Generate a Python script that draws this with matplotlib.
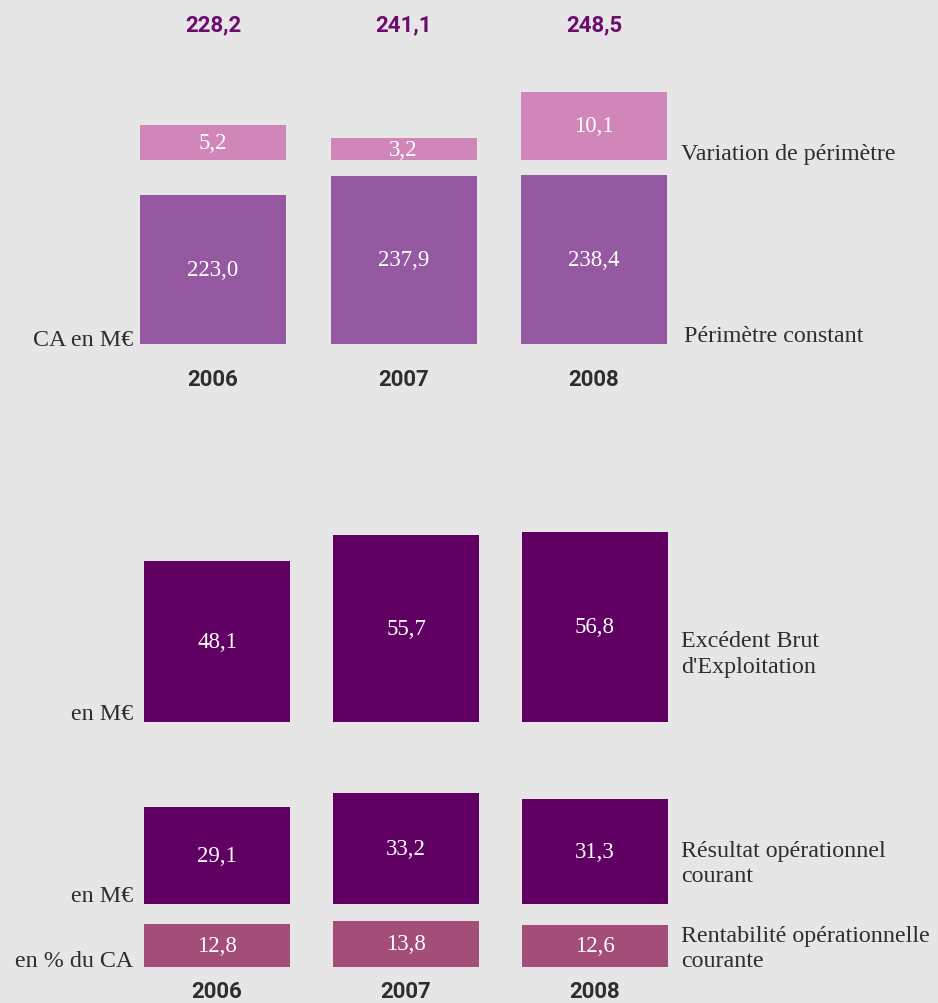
import matplotlib
matplotlib.use("Agg")
import matplotlib.pyplot as plt
from matplotlib import font_manager

# Données (CA, EBE, ROC, rentabilité)
years = ["2006", "2007", "2008"]
ca_totals = ["228,2", "241,1", "248,5"]
ca_constant = [223.0, 237.9, 238.4]
ca_variation = [5.2, 3.2, 10.1]
ebe = [48.1, 55.7, 56.8]
roc = [29.1, 33.2, 31.3]
rentabilite = [12.8, 13.8, 12.6]

BG = "#e6e6e6"
C_CONST = "#9559a1"
C_VAR = "#d086b9"
C_DARK = "#610063"
C_RENT = "#a34e78"
C_TOTAL = "#6b0c6e"
C_TEXT = "#2e2e2e"

installed = {f.name for f in font_manager.fontManager.ttflist}
SANS = "Liberation Sans Narrow" if "Liberation Sans Narrow" in installed else "Roboto"
SERIF = "Liberation Serif"

W, H = 938, 1004
fig = plt.figure(figsize=(W / 100, H / 100), dpi=100, facecolor=BG)


def px_axes(x0, y0, x1, y1):
    # axes placé en pixels (origine en haut à gauche)
    ax = fig.add_axes([x0 / W, 1 - y1 / H, (x1 - x0) / W, (y1 - y0) / H])
    ax.set_facecolor("none")
    ax.axis("off")
    return ax


def fmt(v):
    return f"{v:.1f}".replace(".", ",")


def bars(ax, values, color, width, ylim):
    x = range(len(values))
    rects = ax.bar(x, values, width=width, color=color)
    ax.set_xlim(-width / 2, len(values) - 1 + width / 2)
    ax.set_ylim(*ylim)
    for r, v in zip(rects, values):
        lo = max(r.get_y(), ylim[0])
        ax.text(r.get_x() + r.get_width() / 2, (lo + v) / 2, fmt(v),
                ha="center", va="center", color="white",
                family=SERIF, fontsize=16.5)


def ftext(x, y, s, **kw):
    fig.text(x / W, 1 - y / H, s, **kw)


# --- Chiffre d'affaires ---
w_top = 146 / 190.5
ax_var = px_axes(140, 80, 667, 161)
bars(ax_var, ca_variation, C_VAR, w_top, (0, 12))
ax_const = px_axes(140, 161, 667, 345)
bars(ax_const, ca_constant, C_CONST, w_top, (108.4, 249.9))

top_centers = [213, 404, 594]
for cx, t, yr in zip(top_centers, ca_totals, years):
    ftext(cx, 25, t, ha="center", va="center", color=C_TOTAL,
          family=SANS, fontsize=16, fontweight="bold")
    ftext(cx, 380, yr, ha="center", va="center", color=C_TEXT,
          family=SANS, fontsize=16, fontweight="bold")

serif_kw = dict(family=SERIF, fontsize=17.3, color=C_TEXT, va="baseline")
ftext(681, 160, "Variation de périmètre", ha="left", **serif_kw)
ftext(684, 342, "Périmètre constant", ha="left", **serif_kw)
ftext(133, 346, "CA en M€", ha="right", **serif_kw)

# --- EBE / ROC / rentabilité ---
w_bot = 146 / 189
ax_ebe = px_axes(144, 522, 668, 723)
bars(ax_ebe, ebe, C_DARK, w_bot, (0, 60))
ax_roc = px_axes(144, 788, 668, 905)
bars(ax_roc, roc, C_DARK, w_bot, (0, 35))
ax_rent = px_axes(144, 918, 668, 968)
bars(ax_rent, rentabilite, C_RENT, w_bot, (0, 15))

for cx, yr in zip([217, 406, 595], years):
    ftext(cx, 992, yr, ha="center", va="center", color=C_TEXT,
          family=SANS, fontsize=16, fontweight="bold")

ftext(133, 720, "en M€", ha="right", **serif_kw)
ftext(133, 902, "en M€", ha="right", **serif_kw)
ftext(133, 967, "en % du CA", ha="right", **serif_kw)

right_labels = [
    (647, "Excédent Brut"), (673, "d'Exploitation"),
    (857, "Résultat opérationnel"), (882, "courant"),
    (942, "Rentabilité opérationnelle"), (967, "courante"),
]
for y, s in right_labels:
    ftext(681, y, s, ha="left", **serif_kw)

fig.savefig("out.png", dpi=100, facecolor=BG)
